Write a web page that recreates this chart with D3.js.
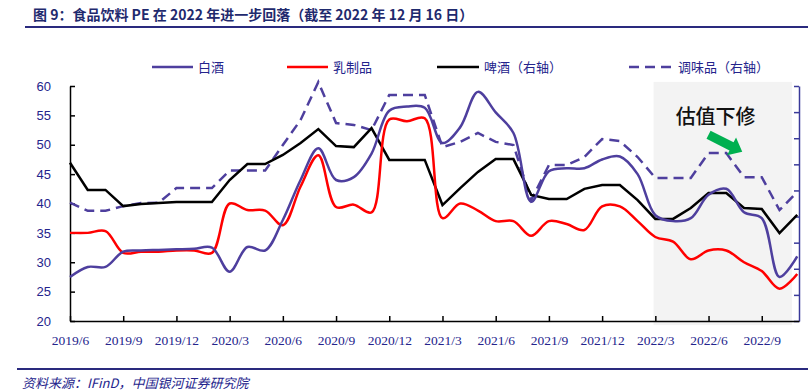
<html>
<head>
    <meta charset="utf-8">
    <style>
        body { margin: 0; background: #fff; }
        .num text { font-family: "Liberation Sans", Arial, sans-serif; font-size: 13px; fill: #24248c; }
        .date text { font-family: "Liberation Serif", "Times New Roman", serif; font-size: 13.5px; fill: #24248c; }
        .cn { font-family: "Noto Sans CJK SC", sans-serif; }
    </style>
    <script src="https://cdn.jsdelivr.net/npm/d3@7/dist/d3.min.js"></script>
</head>
<body>
    <svg width="808" height="391"></svg>
    <script>
        // monthly PE, 2019/6 .. 2022/11
        var months = ["2019/6","2019/7","2019/8","2019/9","2019/10","2019/11","2019/12",
                      "2020/1","2020/2","2020/3","2020/4","2020/5","2020/6","2020/7","2020/8","2020/9",
                      "2020/10","2020/11","2020/12","2021/1","2021/2","2021/3","2021/4","2021/5","2021/6",
                      "2021/7","2021/8","2021/9","2021/10","2021/11","2021/12","2022/1","2022/2","2022/3",
                      "2022/4","2022/5","2022/6","2022/7","2022/8","2022/9","2022/10","2022/11"];
        var tickLabels = ["2019/6","2019/9","2019/12","2020/3","2020/6","2020/9","2020/12",
                          "2021/3","2021/6","2021/9","2021/12","2022/3","2022/6","2022/9"];

        var baijiu = [27.5,29.2,29.2,31.8,32.0,32.1,32.2,32.3,32.5,28.4,32.6,32.0,37.2,44.0,49.4,44.0,
                      44.5,48.5,55.8,56.5,56.3,50.3,53.0,59.0,55.5,52.0,40.3,45.5,46.0,46.0,47.5,48.0,
                      45.0,38.0,37.0,37.5,41.5,42.5,38.5,37.5,27.5,31.0];
        var dairy = [35.0,35.0,35.3,31.6,31.8,31.8,32.0,32.0,31.6,40.0,38.9,38.8,36.3,42.9,48.2,39.4,
                     39.8,38.5,54.3,54.0,54.5,37.5,40.0,38.8,37.0,37.0,34.5,37.0,36.5,35.5,39.5,39.5,
                     37.0,34.3,33.5,30.5,32.0,32.0,30.0,28.5,25.5,28.0];
        // right axis series
        var beer = [70.6,60.2,60.2,54.0,54.8,55.2,55.6,55.6,55.6,64.0,70.1,70.1,73.6,78.2,83.5,77.0,
                    76.6,83.9,71.7,71.7,71.7,54.4,60.9,67.1,72.0,72.0,58.3,56.7,56.7,60.6,62.1,62.1,
                    56.3,49.1,49.1,53.3,59.0,59.0,53.3,52.9,43.7,50.6];
        var condiment = [55.3,52.2,52.2,54.0,55.2,55.3,60.9,60.9,60.9,67.6,67.6,67.6,77.4,87.0,101.5,85.8,
                         85.1,83.1,96.6,96.6,96.6,76.6,78.6,82.0,78.6,77.4,56.3,69.7,69.7,72.8,79.7,78.9,
                         72.8,64.8,64.8,64.8,74.3,74.3,65.1,65.1,52.5,59.4];

        var leftTicks = [20,25,30,35,40,45,50,55,60];
        var rightTicks = [10,20,30,40,50,60,70,80,90,100];
        var names = ["白酒","乳制品","啤酒（右轴）","调味品（右轴）"];

        var svg = d3.select("svg");
        var purple = "#4e3f9e", navy = "#24248c";

        var x = d3.scaleLinear().domain([0, 41.1]).range([70, 799]);
        var yL = d3.scaleLinear().domain([20, 60]).range([321, 86]);
        var yR = d3.scaleLinear().domain([10, 100]).range([321, 86]);

        // title
        svg.append("text").attr("class", "cn")
           .attr("x", 33).attr("y", 20)
           .attr("font-size", 14).attr("font-weight", "bold").attr("fill", "#1f2a6e")
           .text("图 9：食品饮料 PE 在 2022 年进一步回落（截至 2022 年 12 月 16 日）");
        svg.append("line").attr("x1", 25).attr("x2", 808).attr("y1", 27).attr("y2", 27)
           .attr("stroke", "#2a2a7e").attr("stroke-width", 2);

        // shaded window
        svg.append("rect")
           .attr("x", x(32.9)).attr("y", yL(60.7))
           .attr("width", x(40.7) - x(32.9)).attr("height", yL(19.3) - yL(60.7))
           .attr("fill", "#f3f3f3");

        // axes
        var gl = svg.append("g").attr("class", "num").attr("transform", "translate(70,0)")
           .call(d3.axisLeft(yL).tickValues(leftTicks).tickSize(-5).tickSizeOuter(0).tickPadding(19));
        gl.selectAll("path, line").attr("stroke", "#000").attr("stroke-width", 1.5);
        gl.selectAll("text").attr("fill", navy);

        var gr = svg.append("g").attr("transform", "translate(799,0)")
           .call(d3.axisRight(yR).tickValues(rightTicks).tickSize(-5).tickSizeOuter(0).tickFormat(""));
        gr.selectAll("path, line").attr("stroke", "#3a3a9a").attr("stroke-width", 1.5);

        var gb = svg.append("g").attr("class", "date").attr("transform", "translate(0,321)")
           .call(d3.axisBottom(x).tickValues(tickLabels.map(function(d) { return months.indexOf(d); }))
                 .tickFormat(function(i) { return months[i]; })
                 .tickSize(-5).tickSizeOuter(0).tickPadding(14));
        gb.selectAll("path, line").attr("stroke", "#000").attr("stroke-width", 1.5);
        gb.selectAll("text").attr("fill", navy);

        // lines
        var smoothL = d3.line().x(function(d, i) { return x(i); }).y(function(d) { return yL(d); })
                        .curve(d3.curveCatmullRom.alpha(0.5));
        var straightR = d3.line().x(function(d, i) { return x(i); }).y(function(d) { return yR(d); });

        svg.append("path").datum(condiment).attr("d", straightR).attr("fill", "none")
           .attr("stroke", purple).attr("stroke-width", 2.5).attr("stroke-dasharray", "10,6");
        svg.append("path").datum(beer).attr("d", straightR).attr("fill", "none")
           .attr("stroke", "#000").attr("stroke-width", 2.5);
        svg.append("path").datum(dairy).attr("d", smoothL).attr("fill", "none")
           .attr("stroke", "#ff0000").attr("stroke-width", 2.5);
        svg.append("path").datum(baijiu).attr("d", smoothL).attr("fill", "none")
           .attr("stroke", purple).attr("stroke-width", 2.5);

        // legend
        var legend = [
            { x1: 152, x2: 193, color: purple, dash: null },
            { x1: 287, x2: 328, color: "#ff0000", dash: null },
            { x1: 437, x2: 479, color: "#000", dash: null },
            { x1: 629, x2: 673, color: purple, dash: "10,6" }
        ];
        legend.forEach(function(l, i) {
            svg.append("line").attr("x1", l.x1).attr("x2", l.x2).attr("y1", 67).attr("y2", 67)
               .attr("stroke", l.color).attr("stroke-width", 2.5)
               .attr("stroke-dasharray", l.dash);
            svg.append("text").attr("class", "cn").attr("x", l.x2 + 5).attr("y", 72)
               .attr("font-size", 13).attr("fill", navy).text(names[i]);
        });

        // annotation
        svg.append("text").attr("class", "cn")
           .attr("x", x(36.4)).attr("y", yL(54.7)).attr("dy", "0.35em")
           .attr("text-anchor", "middle").attr("font-size", 20).attr("font-weight", 500)
           .attr("fill", "#111").text("估值下修");

        var ax0 = x(36.0), ay0 = yL(51.7), ax1 = x(37.9), ay1 = yL(48.8);
        var ang = Math.atan2(ay1 - ay0, ax1 - ax0), len = Math.hypot(ax1 - ax0, ay1 - ay0);
        var g = svg.append("g")
           .attr("transform", "translate(" + ax0 + "," + ay0 + ") rotate(" + (ang * 180 / Math.PI) + ")");
        g.append("path")
         .attr("d", "M0,-4.5 L" + (len - 12) + ",-4.5 L" + (len - 12) + ",-10 L" + len + ",0 L" +
               (len - 12) + ",10 L" + (len - 12) + ",4.5 L0,4.5 Z")
         .attr("fill", "#00b050");

        // source
        svg.append("line").attr("x1", 17).attr("x2", 808).attr("y1", 369).attr("y2", 369)
           .attr("stroke", "#2a2a7e").attr("stroke-width", 2);
        svg.append("text").attr("class", "cn")
           .attr("x", 22).attr("y", 388)
           .attr("font-size", 13).attr("font-style", "italic").attr("fill", navy)
           .text("资料来源：IFinD，中国银河证券研究院");
    </script>
</body>
</html>
